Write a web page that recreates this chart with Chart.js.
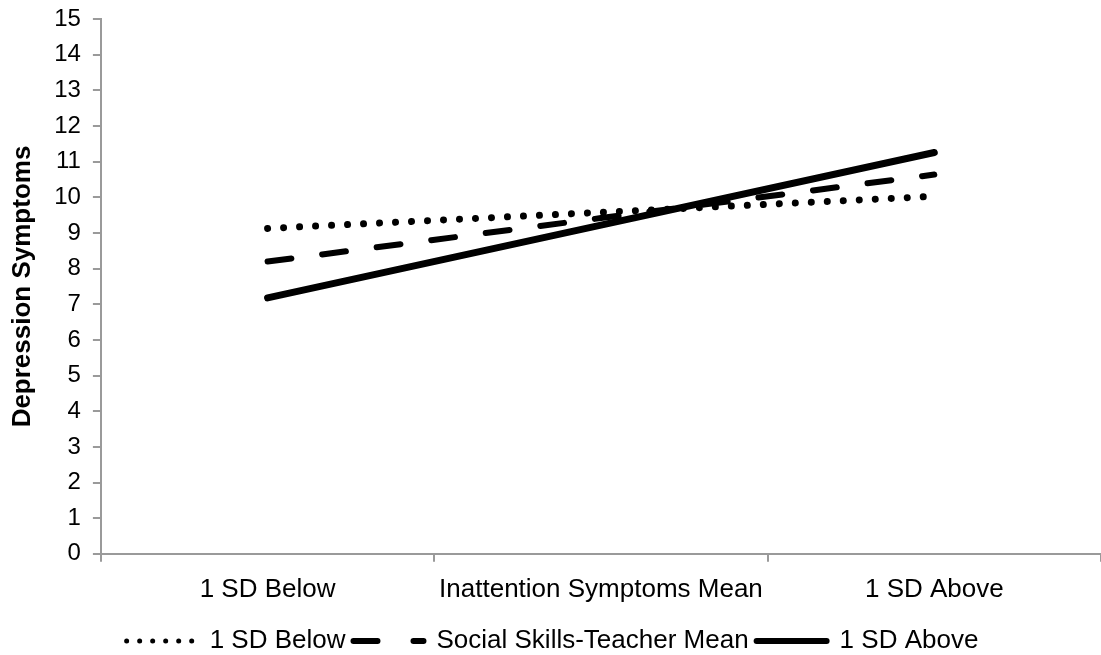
<!DOCTYPE html>
<html>
<head>
<meta charset="utf-8">
<script src="https://cdn.jsdelivr.net/npm/chart.js@4.4.1/dist/chart.umd.min.js"></script>
<style>
    html, body { margin: 0; padding: 0; background: #fff; }
    #wrap { width: 1101px; height: 655px; position: relative; }
</style>
</head>
<body>
<div id="wrap"><canvas id="chart"></canvas></div>
<script>
const categories = ['1 SD Below', 'Inattention Symptoms Mean', '1 SD Above'];
const seriesNames = ['1 SD Below', 'Social Skills-Teacher Mean', '1 SD Above'];
const lowSkills = [9.13, 9.58, 10.03];
const meanSkills = [8.2, 9.42, 10.64];
const highSkills = [7.18, 9.22, 11.26];
const yMin = 0;
const yMax = 15;
const yStep = 1;
const yTitle = 'Depression Symptoms';

(() => {
    const axisColor = '#9a9a9a';
    Chart.defaults.font.family = '"Liberation Sans", Arial, sans-serif';
    Chart.defaults.font.size = 26;
    Chart.defaults.color = '#000';

    // legend samples are thinner / tighter than the plotted lines
    const legendStyles = [
        { lineWidth: 5, lineDash: [0.01, 13], lineCap: 'round' },
        { lineWidth: 6, lineDash: [24, 36], lineCap: 'round' },
        { lineWidth: 6, lineDash: [], lineCap: 'round' }
    ];

    // push the legend row a bit closer to the bottom edge
    const legendNudge = {
        id: 'legendNudge',
        afterLayout(chart) {
            const lg = chart.legend;
            if (!lg) return;
            lg.top += 9;
            lg.bottom += 9;
        }
    };

    new Chart(document.getElementById('chart'), {
        type: 'line',
        plugins: [legendNudge],
        data: {
            labels: categories,
            datasets: [
                {
                    label: seriesNames[0],
                    data: lowSkills,
                    borderColor: '#000',
                    borderWidth: 7,
                    borderDash: [0.01, 16],
                    borderCapStyle: 'round'
                },
                {
                    label: seriesNames[1],
                    data: meanSkills,
                    borderColor: '#000',
                    borderWidth: 6,
                    borderDash: [24, 31],
                    borderCapStyle: 'round'
                },
                {
                    label: seriesNames[2],
                    data: highSkills,
                    borderColor: '#000',
                    borderWidth: 7,
                    borderCapStyle: 'round'
                }
            ]
        },
        options: {
            responsive: true,
            maintainAspectRatio: false,
            animation: false,
            elements: {
                point: { radius: 0, hoverRadius: 0 },
                line: { tension: 0, fill: false }
            },
            layout: {
                padding: { top: 0, right: 0, bottom: 0, left: 4 }
            },
            plugins: {
                tooltip: { enabled: false },
                legend: {
                    position: 'bottom',
                    labels: {
                        usePointStyle: true,
                        pointStyle: 'line',
                        pointStyleWidth: 70,
                        boxHeight: 10,
                        padding: 8,
                        color: '#000',
                        font: { size: 26 },
                        generateLabels(chart) {
                            return chart.data.datasets.map((ds, i) => ({
                                text: ds.label,
                                datasetIndex: i,
                                fillStyle: 'transparent',
                                strokeStyle: '#000',
                                fontColor: '#000',
                                pointStyle: 'line',
                                hidden: false,
                                lineWidth: legendStyles[i].lineWidth,
                                lineDash: legendStyles[i].lineDash,
                                lineCap: legendStyles[i].lineCap
                            }));
                        }
                    }
                }
            },
            scales: {
                x: {
                    type: 'category',
                    offset: true,
                    afterFit(scale) {
                        scale.height -= 6;
                    },
                    border: { display: true, color: axisColor, width: 2 },
                    grid: {
                        offset: true,
                        drawOnChartArea: false,
                        drawTicks: true,
                        tickLength: 8,
                        color: axisColor,
                        lineWidth: 2
                    },
                    ticks: {
                        padding: 12,
                        maxRotation: 0,
                        font: { size: 26 },
                        color: '#000'
                    }
                },
                y: {
                    min: yMin,
                    max: yMax,
                    border: { display: true, color: axisColor, width: 2 },
                    grid: {
                        drawOnChartArea: false,
                        drawTicks: true,
                        tickLength: 8,
                        color: axisColor,
                        lineWidth: 2
                    },
                    ticks: {
                        stepSize: yStep,
                        padding: 12,
                        font: { size: 24, lineHeight: 0.6 },
                        color: '#000'
                    },
                    title: {
                        display: true,
                        text: yTitle,
                        color: '#000',
                        font: { size: 26, weight: 'bold' },
                        padding: { top: 3, bottom: 4 }
                    }
                }
            }
        }
    });
})();
</script>
</body>
</html>
